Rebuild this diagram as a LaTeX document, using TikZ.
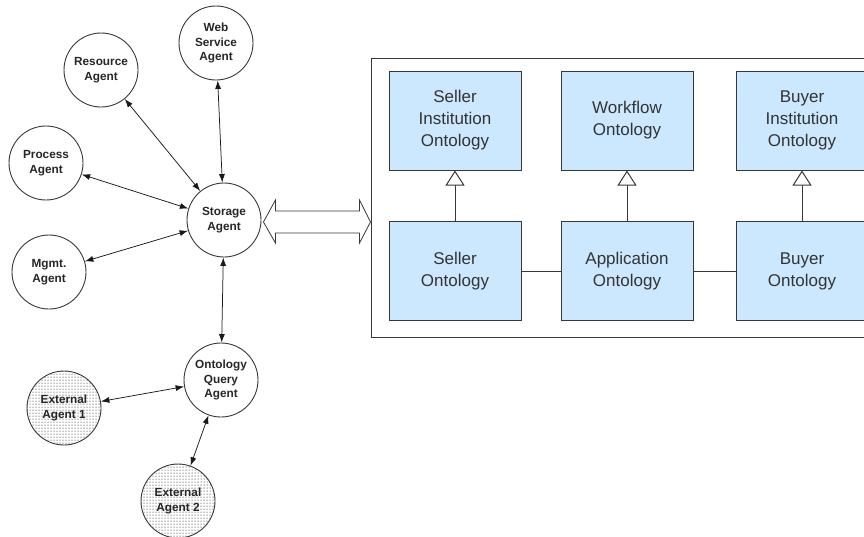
\documentclass[tikz,border=0pt]{standalone}
\usepackage{fontspec}
\setmainfont{Liberation Sans}
\usetikzlibrary{arrows.meta,patterns,calc}
\definecolor{boxfill}{RGB}{204,232,255}
\definecolor{edgegray}{RGB}{55,55,55}
\begin{document}
\begin{tikzpicture}[x=1pt,y=-1pt,
  agent/.style={circle, draw=edgegray, line width=0.9pt, minimum size=74pt,
    inner sep=0pt, align=center,
    font=\fontsize{11.8}{14.5}\selectfont\bfseries, text=black!85},
  extagent/.style={agent, pattern=dots, pattern color=black},
  onto/.style={rectangle, draw=edgegray, fill=boxfill, line width=1pt,
    minimum width=132pt, minimum height=99pt, align=center,
    font=\fontsize{17}{22}\selectfont, text=black!80},
  link/.style={{Latex[length=8.5pt,width=6pt]}-{Latex[length=8.5pt,width=6pt]},
    line width=0.75pt, draw=black!90},
  isa/.style={-{Triangle[open,length=15pt,width=19pt,fill=white]},
    line width=1pt, draw=edgegray},
  plain/.style={line width=1pt, draw=edgegray}]
\useasboundingbox (0,0) rectangle (864,536);
\clip (0,0) rectangle (864,536);

% ontology container
\node[draw=edgegray, line width=1pt, minimum width=513pt, minimum height=279pt,
  inner sep=0pt] (outer) at (627.5,197.5) {};

% ontology boxes
\node[onto] (sinst) at (455,120.5) {Seller\\Institution\\Ontology};
\node[onto] (wflow) at (627,120.5) {Workflow\\Ontology};
\node[onto] (binst) at (802,120.5) {Buyer\\Institution\\Ontology};
\node[onto] (seller) at (455,271) {Seller\\Ontology};
\node[onto] (appl) at (627,271) {Application\\Ontology};
\node[onto] (buyer) at (802,271) {Buyer\\Ontology};

\draw[isa] (seller) -- (sinst);
\draw[isa] (appl) -- (wflow);
\draw[isa] (buyer) -- (binst);
\draw[plain] (seller) -- (appl);
\draw[plain] (appl) -- (buyer);

% agents
\node[agent] (storage) at (224,220) {Storage\\Agent};
\node[agent] (web) at (216,43) {Web\\Service\\Agent};
\node[agent] (resource) at (101,70) {Resource\\Agent};
\node[agent] (process) at (46,163) {Process\\Agent};
\node[agent] (mgmt) at (49,272) {Mgmt.\\Agent};
\node[agent] (oqa) at (221,380) {Ontology\\Query\\Agent};
\node[extagent] (ext1) at (64,408) {External\\Agent 1};
\node[extagent] (ext2) at (178,501) {External\\Agent 2};

\draw[link] (resource) -- (storage);
\draw[link] (web) -- (storage);
\draw[link] (process) -- (storage);
\draw[link] (mgmt) -- (storage);
\draw[link] (storage) -- (oqa);
\draw[link] (oqa) -- (ext1);
\draw[link] (oqa) -- (ext2);

% wide double arrow between storage agent and ontologies
\coordinate (dl) at ($(storage.east)+(2,2)$);
\coordinate (dr) at (dl -| outer.west);
\draw[edgegray, line width=0.8pt, fill=white]
  (dl) -- ++(12,-22) -- ++(0,11) -- ($(dr)+(-11,-11)$) -- ++(0,-11) -- (dr)
  -- ++(-11,21) -- ++(0,-10) -- ($(dl)+(12,11)$) -- ++(0,10) -- cycle;
\end{tikzpicture}
\end{document}
